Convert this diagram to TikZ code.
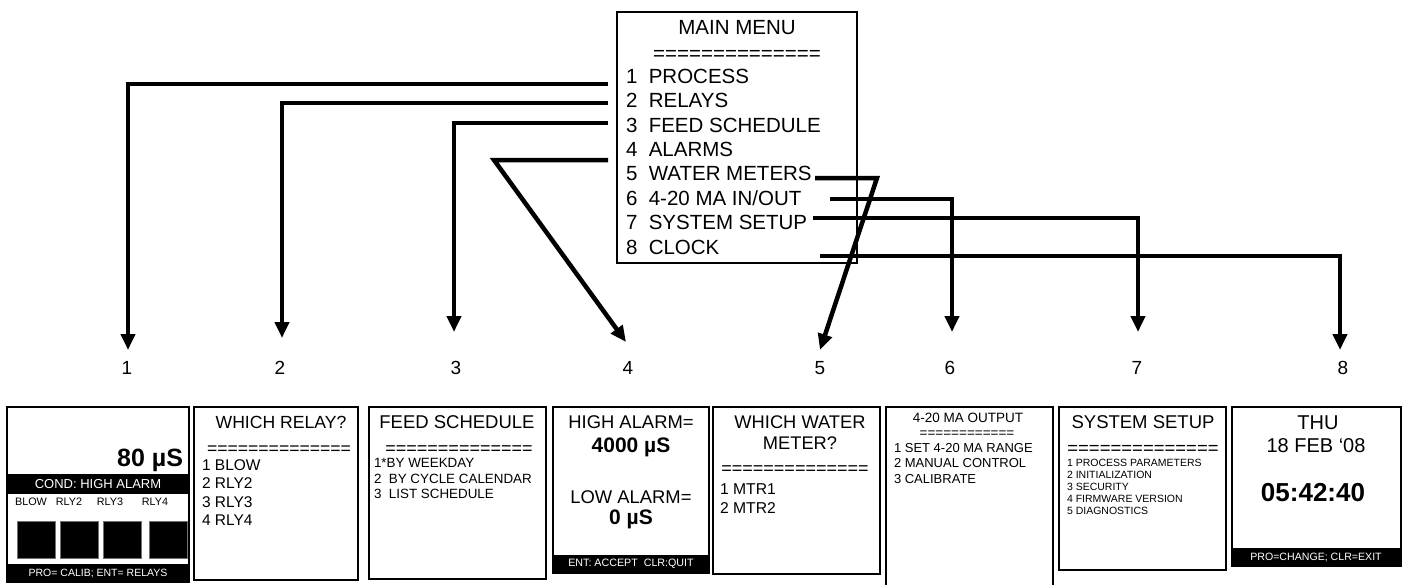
\documentclass[tikz,border=0pt]{standalone}
\usepackage{fontspec}
\setmainfont{Liberation Sans}
\usetikzlibrary{arrows.meta}
\newcommand\fsz[1]{\fontsize{#1}{#1}\selectfont}
\begin{document}
\begin{tikzpicture}[x=1pt,y=-1pt,
  arr/.style={line width=4.5pt,-{Triangle[width=14pt,length=16pt]}},
  scrbox/.style={draw=black,line width=2pt},
  tc/.style={inner sep=0pt,outer sep=0pt,anchor=base},
  tl/.style={inner sep=0pt,outer sep=0pt,anchor=base west},
  tr/.style={inner sep=0pt,outer sep=0pt,anchor=base east},
  wt/.style={tc,text=white},
  sq/.style={fill=black,draw=black!55,line width=0.6pt}
]
\useasboundingbox (0,0) rectangle (1405,584);

% ---------- main menu ----------
\draw[line width=1.6pt] (617,12) rectangle (857,263);
\node[tc,font=\fsz{20.5}] (mtitle) at (737,34.3) {MAIN MENU};
\node[tc,font=\fsz{20.5}] (meq) at (737,60) {==============};
\node[tl,font=\fsz{20.5}] (m1) at (626,83.3) {1\ \ PROCESS};
\node[tl,font=\fsz{20.5}] (m2) at (626,107.7) {2\ \ RELAYS};
\node[tl,font=\fsz{20.5}] (m3) at (626,132.1) {3\ \ FEED SCHEDULE};
\node[tl,font=\fsz{20.5}] (m4) at (626,156.5) {4\ \ ALARMS};
\node[tl,font=\fsz{20.5}] (m5) at (626,180.9) {5\ \ WATER METERS};
\node[tl,font=\fsz{20.5}] (m6) at (626,205.3) {6\ \ 4-20 MA IN/OUT};
\node[tl,font=\fsz{20.5}] (m7) at (626,229.7) {7\ \ SYSTEM SETUP};
\node[tl,font=\fsz{20.5}] (m8) at (626,254.1) {8\ \ CLOCK};

% ---------- labels ----------
\node[tc,font=\fsz{19}] (l1) at (127,374.8) {1};
\node[tc,font=\fsz{19}] (l2) at (280,374.8) {2};
\node[tc,font=\fsz{19}] (l3) at (456,374.8) {3};
\node[tc,font=\fsz{19}] (l4) at (628,374.8) {4};
\node[tc,font=\fsz{19}] (l5) at (820,374.8) {5};
\node[tc,font=\fsz{19}] (l6) at (950,374.8) {6};
\node[tc,font=\fsz{19}] (l7) at (1137,374.8) {7};
\node[tc,font=\fsz{19}] (l8) at (1343,374.8) {8};

% ---------- connectors ----------
\coordinate (s1) at (608,84);   \coordinate (t1) at (128,350);
\coordinate (s2) at (608,103);  \coordinate (t2) at (282,338);
\coordinate (s3) at (608,123);  \coordinate (t3) at (454,332);
\coordinate (s4) at (608,160);  \coordinate (c4) at (494,160); \coordinate (t4) at (626,342);
\coordinate (s5) at (815,178);  \coordinate (c5) at (877,178); \coordinate (t5) at (820,350);
\coordinate (s6) at (830,199);  \coordinate (t6) at (952,332);
\coordinate (s7) at (813,218);  \coordinate (t7) at (1138,332);
\coordinate (s8) at (820,256);  \coordinate (t8) at (1340,350);
\draw[arr] (s1) -| (t1);
\draw[arr] (s2) -| (t2);
\draw[arr] (s3) -| (t3);
\draw[arr] (s4) -- (c4) -- (t4);
\draw[arr] (s5) -- (c5) -- (t5);
\draw[arr] (s6) -| (t6);
\draw[arr] (s7) -| (t7);
\draw[arr] (s8) -| (t8);

% ---------- screen 1 ----------
\draw[scrbox] (7,407) rectangle (189,582);
\node[tr,font=\bfseries\fsz{25}] (a80) at (183,466) {80 µS};
\fill (7,474) rectangle (189,494);
\node[wt,font=\fsz{13}] (acond) at (98,488.7) {COND: HIGH ALARM};
\node[tc,font=\fsz{10.8}] (ar1) at (31,505.8) {BLOW};
\node[tc,font=\fsz{10.8}] (ar2) at (69,505.8) {RLY2};
\node[tc,font=\fsz{10.8}] (ar3) at (110,505.8) {RLY3};
\node[tc,font=\fsz{10.8}] (ar4) at (155,505.8) {RLY4};
\draw[sq] (17,521) rectangle (55,558);
\draw[sq] (60,521) rectangle (98,558);
\draw[sq] (103,521) rectangle (141,558);
\draw[sq] (149,521) rectangle (187,558);
\fill (7,564) rectangle (189,582);
\node[wt,font=\fsz{10.5}] (apro) at (98,576.8) {PRO= CALIB; ENT= RELAYS};

% ---------- screen 2 ----------
\draw[scrbox] (194,407) rectangle (358,580);
\node[tc,font=\fsz{17.6}] (btitle) at (281,428.3) {WHICH RELAY?};
\node[tc,font=\fsz{17.6}] (beq) at (279,454) {==============};
\node[tl,font=\fsz{15.5}] (b1) at (202,470.5) {1 BLOW};
\node[tl,font=\fsz{15.5}] (b2) at (202,488.8) {2 RLY2};
\node[tl,font=\fsz{15.5}] (b3) at (202,507.1) {3 RLY3};
\node[tl,font=\fsz{15.5}] (b4) at (202,525.4) {4 RLY4};

% ---------- screen 3 ----------
\draw[scrbox] (369,407) rectangle (546,579);
\node[tc,font=\fsz{18.5}] (ctitle) at (457,428.6) {FEED SCHEDULE};
\node[tc,font=\fsz{18}] (ceq) at (459,454.2) {==============};
\node[tl,font=\fsz{13.4}] (c1) at (374,467.8) {1*BY WEEKDAY};
\node[tl,font=\fsz{13.4}] (c2) at (374,483.8) {2\ \ BY CYCLE CALENDAR};
\node[tl,font=\fsz{13.4}] (c3) at (374,498.8) {3\ \ LIST SCHEDULE};

% ---------- screen 4 ----------
\draw[scrbox] (553,407) rectangle (709,573);
\node[tc,font=\fsz{18.4}] (dhigh) at (631,428.6) {HIGH ALARM=};
\node[tc,font=\bfseries\fsz{21}] (dhv) at (631,452.5) {4000 µS};
\node[tc,font=\fsz{18.4}] (dlow) at (631,503.6) {LOW ALARM=};
\node[tc,font=\bfseries\fsz{21}] (dlv) at (631,524.5) {0 µS};
\fill (553,555) rectangle (709,573);
\node[wt,font=\fsz{10.7}] (dbar) at (631,566.8) {ENT: ACCEPT\ \ CLR:QUIT};

% ---------- screen 5 ----------
\draw[scrbox] (713,407) rectangle (880,574);
\node[tc,font=\fsz{18.3}] (et1) at (800,428.6) {WHICH WATER};
\node[tc,font=\fsz{18.3}] (et2) at (800,449.6) {METER?};
\node[tc,font=\fsz{18}] (eeq) at (795,474.2) {==============};
\node[tl,font=\fsz{15.7}] (e1) at (720,494.6) {1 MTR1};
\node[tl,font=\fsz{15.7}] (e2) at (720,513.6) {2 MTR2};

% ---------- screen 6 ----------
\draw[scrbox] (886,600) -- (886,407) -- (1053,407) -- (1053,600);
\node[tc,font=\fsz{13.5}] (ftitle) at (968,422.8) {4-20 MA OUTPUT};
\node[tc,font=\fsz{13.5}] (feq) at (967,437.7) {============};
\node[tl,font=\fsz{13}] (f1) at (894,452.7) {1 SET 4-20 MA RANGE};
\node[tl,font=\fsz{13}] (f2) at (894,467.7) {2 MANUAL CONTROL};
\node[tl,font=\fsz{13}] (f3) at (894,483.7) {3 CALIBRATE};

% ---------- screen 7 ----------
\draw[scrbox] (1059,407) rectangle (1226,570);
\node[tc,font=\fsz{18.5}] (gtitle) at (1143,428.6) {SYSTEM SETUP};
\node[tc,font=\fsz{18.5}] (geq) at (1143,454.4) {==============};
\node[tl,font=\fsz{10.5}] (g1) at (1067,466.8) {1 PROCESS PARAMETERS};
\node[tl,font=\fsz{10.5}] (g2) at (1067,478.8) {2 INITIALIZATION};
\node[tl,font=\fsz{10.5}] (g3) at (1067,490.8) {3 SECURITY};
\node[tl,font=\fsz{10.5}] (g4) at (1067,502.8) {4 FIRMWARE VERSION};
\node[tl,font=\fsz{10.5}] (g5) at (1067,514.8) {5 DIAGNOSTICS};

% ---------- screen 8 ----------
\draw[scrbox] (1232,407) rectangle (1401,566);
\node[tc,font=\fsz{20}] (hday) at (1318,429.2) {THU};
\node[tc,font=\fsz{20}] (hdate) at (1316,452.2) {18 FEB ‘08};
\node[tc,font=\bfseries\fsz{26}] (htime) at (1313,501.3) {05:42:40};
\fill (1232,548) rectangle (1401,566);
\node[wt,font=\fsz{10.6}] (hbar) at (1316,560.8) {PRO=CHANGE; CLR=EXIT};
\end{tikzpicture}
\end{document}
